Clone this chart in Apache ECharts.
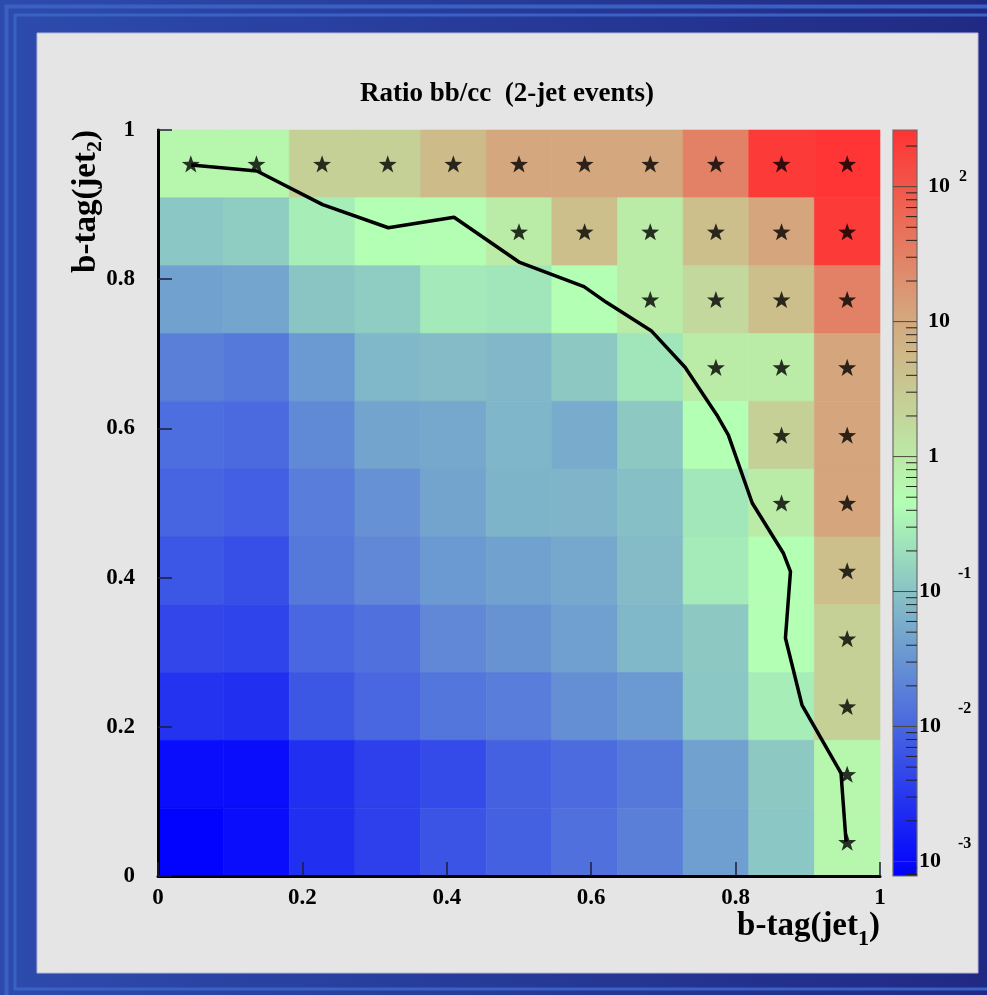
<!DOCTYPE html>
<html><head><meta charset="utf-8">
<script src="https://cdn.jsdelivr.net/npm/echarts@6/dist/echarts.min.js"></script>
<style>html,body{margin:0;padding:0;background:#222c88;} #c{width:987px;height:995px;}</style>
</head><body><div id="c"></div>
<script>
// ---------------- data ----------------
const nBins = 11;
const titleText = 'Ratio bb/cc  (2-jet events)';
const xTitle = 'b-tag(jet{sub|1})';
const yTitle = 'b-tag(jet{sub|2})';
// ratio bb/cc per cell; rows listed from top (jet2 bin 10) down to bottom (jet2 bin 0), columns jet1 bin 0..10
const ratioTopToBottom = [
  [0.63,    0.63,    2.4,    2.4,    5.1,    10.5,   10.5,   10.5,   30,    215,   250],
  [0.11,    0.125,   0.29,   0.45,   0.47,   0.9,    4.5,    0.9,    4.5,   11,    215],
  [0.043,   0.047,   0.105,  0.126,  0.26,   0.24,   0.45,   0.9,    1.8,   4.5,   30],
  [0.0185,  0.0155,  0.035,  0.074,  0.083,  0.075,  0.115,  0.24,   0.9,   0.9,   11],
  [0.012,   0.011,   0.024,  0.046,  0.051,  0.072,  0.055,  0.115,  0.45,  2.4,   11],
  [0.0096,  0.0082,  0.0175, 0.029,  0.046,  0.069,  0.07,   0.091,  0.25,  0.9,   11],
  [0.0066,  0.0056,  0.0155, 0.023,  0.035,  0.043,  0.051,  0.083,  0.27,  0.45,  4.5],
  [0.0045,  0.0042,  0.010,  0.013,  0.023,  0.030,  0.042,  0.074,  0.115, 0.45,  2.4],
  [0.0028,  0.0025,  0.0067, 0.010,  0.0145, 0.0175, 0.0275, 0.035,  0.11,  0.29,  2.4],
  [0.00107, 0.00107, 0.0025, 0.0038, 0.0049, 0.0087, 0.0112, 0.0155, 0.043, 0.115, 0.63],
  [0.00085, 0.00107, 0.0025, 0.0038, 0.0063, 0.0087, 0.013,  0.0185, 0.040, 0.11,  0.63]
];
// cells marked with a star: [jet1 bin, jet2 bin] (bin 0 = bottom/left)
const starCells = [
  [0,10],[1,10],[2,10],[3,10],[4,10],[5,10],[6,10],[7,10],[8,10],[9,10],[10,10],
  [5,9],[6,9],[7,9],[8,9],[9,9],[10,9],
  [7,8],[8,8],[9,8],[10,8],
  [8,7],[9,7],[10,7],
  [9,6],[10,6],
  [9,5],[10,5],
  [10,4],[10,3],[10,2],[10,1],[10,0]
];
// black contour line
const contourX = [0.046, 0.137, 0.228, 0.319, 0.410, 0.500, 0.590, 0.621, 0.683, 0.730, 0.774, 0.790, 0.823, 0.866, 0.876, 0.869, 0.892, 0.946, 0.953];
const contourY = [0.953, 0.945, 0.900, 0.869, 0.883, 0.823, 0.790, 0.769, 0.731, 0.682, 0.618, 0.591, 0.500, 0.433, 0.408, 0.319, 0.229, 0.138, 0.046];
// z (colour) range and palette
const zMin = 0.00078, zMax = 263;
const paletteColors = ['#0000ff', '#5a80d9', '#b3ffb3', '#d5a67d', '#ff3333'];
const zLabelExponents = [-3, -2, -1, 0, 1, 2];

// ---------------- build ----------------
const FONT = 'Liberation Serif';
const binW = 1 / nBins;
const logMin = Math.log10(zMin), logMax = Math.log10(zMax);
const cellData = [];
ratioTopToBottom.forEach((row, r) => {
  const j = nBins - 1 - r;
  row.forEach((v, i) => cellData.push([(i + 0.5) * binW, (j + 0.5) * binW, Math.log10(v)]));
});
const starData = starCells.map(c => [(c[0] + 0.5) * binW, (c[1] + 0.5) * binW]);
const lineData = contourX.map((x, k) => [x, contourY[k]]);
const tickData = [];
for (let e = -4; e <= 2; e++) {
  for (let k = 1; k <= 9; k++) {
    const lv = e + Math.log10(k);
    if (lv >= logMin && lv <= logMax) tickData.push([1, lv, k === 1 ? 1 : 0]);
  }
}
const gradStops = paletteColors.map((c, k) => ({offset: k / (paletteColors.length - 1), color: c}));
const starPath = 'path://M10,0 L12.35,6.76 L19.51,6.91 L13.8,11.24 L15.88,18.09 L10,14 L4.12,18.09 L6.2,11.24 L0.49,6.91 L7.65,6.76 Z';

const chart = echarts.init(document.getElementById('c'), null, {renderer: 'canvas'});
const boldLbl = {fontFamily: FONT, fontWeight: 'bold', color: '#000'};
function titleStyle(text, subPad) {
  return {
    text: text, fill: '#000', fontFamily: FONT, fontWeight: 'bold', fontSize: 33, lineHeight: 60,
    align: 'right', verticalAlign: 'middle',
    rich: {sub: {fontFamily: FONT, fontWeight: 'bold', fontSize: 22, lineHeight: 22, fill: '#000', padding: [subPad, 0, 0, 0]}}
  };
}

const option = {
  animation: false,
  backgroundColor: 'transparent',
  graphic: [
    {type: 'rect', z: -20, silent: true, shape: {x: 0, y: 0, width: 987, height: 995},
     style: {fill: new echarts.graphic.LinearGradient(0, 0, 1, 0, [{offset: 0, color: '#2d4bad'}, {offset: 1, color: '#202a84'}])}},
    {type: 'rect', z: -19, silent: true, shape: {x: 6.5, y: 6.5, width: 1000, height: 1000},
     style: {fill: null, stroke: '#3a60c4', lineWidth: 4}},
    {type: 'rect', z: -19, silent: true, shape: {x: 15, y: 15, width: 1000, height: 974},
     style: {fill: null, stroke: '#3a62c6', lineWidth: 3}},
    {type: 'rect', z: -18, silent: true, shape: {x: 37, y: 33, width: 941, height: 940},
     style: {fill: '#e5e5e5', stroke: '#b4b8d8', lineWidth: 1}},
    {type: 'text', z: 20, silent: true, x: 880, y: 926, style: titleStyle(xTitle, 27)},
    {type: 'text', z: 20, silent: true, x: 86, y: 130, rotation: Math.PI / 2, style: titleStyle(yTitle, 18)}
  ],
  title: {
    text: titleText, left: 507, top: 81, textAlign: 'center', padding: 0,
    textStyle: {fontFamily: FONT, fontWeight: 'bold', fontSize: 27, lineHeight: 27, color: '#000'}
  },
  visualMap: {
    type: 'continuous', show: false, seriesIndex: 0, dimension: 2,
    min: logMin, max: logMax, inRange: {color: paletteColors}
  },
  grid: [
    {left: 158, top: 130, width: 722, height: 746, outerBoundsMode: 'none'},
    {left: 893, top: 130, width: 24, height: 746, outerBoundsMode: 'none'}
  ],
  xAxis: [
    {gridIndex: 0, type: 'value', min: 0, max: 1, interval: 0.2, position: 'bottom', z: 10,
     axisLine: {lineStyle: {color: '#000', width: 3}},
     axisTick: {inside: true, length: 14, lineStyle: {color: '#1c1c3c', width: 1.5}},
     axisLabel: Object.assign({margin: 11, fontSize: 23}, boldLbl),
     splitLine: {show: false}},
    {gridIndex: 0, type: 'value', min: 0, max: 1, position: 'top', z: 10,
     axisLine: {lineStyle: {color: '#000', width: 2}}, axisTick: {show: false}, axisLabel: {show: false}, splitLine: {show: false}},
    {gridIndex: 1, type: 'value', min: 0, max: 1, show: false}
  ],
  yAxis: [
    {gridIndex: 0, type: 'value', min: 0, max: 1, interval: 0.2, position: 'left', z: 10,
     axisLine: {lineStyle: {color: '#000', width: 3}},
     axisTick: {inside: true, length: 14, lineStyle: {color: '#1c1c3c', width: 1.5}},
     axisLabel: Object.assign({margin: 23, fontSize: 23}, boldLbl),
     splitLine: {show: false}},
    {gridIndex: 0, type: 'value', min: 0, max: 1, position: 'right', z: 10,
     axisLine: {lineStyle: {color: '#000', width: 2}}, axisTick: {show: false}, axisLabel: {show: false}, splitLine: {show: false}},
    {gridIndex: 1, type: 'value', min: logMin, max: logMax, position: 'right',
     axisLine: {show: false}, axisTick: {show: false}, splitLine: {show: false},
     axisLabel: {
       customValues: zLabelExponents, margin: 2, color: '#000',
       formatter: function (v) {
         const e = Math.round(v);
         if (e === 0) return '{pad| }{b|1}';
         if (e === 1) return '{pad| }{b|10}';
         if (e > 1) return '{pad| }{bp|10}{gp| }{ep|' + e + '}';
         return '{bn|10}{gn| }{en|' + e + '}';
       },
       rich: {
         pad: {width: 9, fontSize: 10},
         b: {fontFamily: FONT, fontWeight: 'bold', fontSize: 22, lineHeight: 24, color: '#000'},
         bp: {fontFamily: FONT, fontWeight: 'bold', fontSize: 22, lineHeight: 36, color: '#000'},
         gp: {width: 9, fontSize: 10},
         ep: {fontFamily: FONT, fontWeight: 'bold', fontSize: 16, lineHeight: 16, verticalAlign: 'top', color: '#000'},
         bn: {fontFamily: FONT, fontWeight: 'bold', fontSize: 22, lineHeight: 52, color: '#000'},
         gn: {width: 17, fontSize: 10},
         en: {fontFamily: FONT, fontWeight: 'bold', fontSize: 16, lineHeight: 16, verticalAlign: 'top', color: '#000'}
       }
     }}
  ],
  series: [
    {
      type: 'custom', xAxisIndex: 0, yAxisIndex: 0, z: 2, encode: {x: 0, y: 1},
      data: cellData,
      renderItem: function (params, api) {
        const xc = api.value(0), yc = api.value(1);
        const p0 = api.coord([xc - binW / 2, yc + binW / 2]);
        const p1 = api.coord([xc + binW / 2, yc - binW / 2]);
        const c = api.visual('color');
        return {type: 'rect', shape: {x: p0[0], y: p0[1], width: p1[0] - p0[0], height: p1[1] - p0[1]},
                style: {fill: c, stroke: c, lineWidth: 0.6}};
      }
    },
    {
      type: 'line', xAxisIndex: 0, yAxisIndex: 0, z: 3, data: lineData,
      showSymbol: false, symbol: 'none', lineStyle: {color: '#000', width: 3.5}
    },
    {
      type: 'scatter', xAxisIndex: 0, yAxisIndex: 0, z: 4, data: starData,
      symbol: starPath, symbolSize: 18, symbolKeepAspect: true, itemStyle: {color: '#000'}
    },
    {
      type: 'custom', xAxisIndex: 2, yAxisIndex: 2, z: 2, encode: {x: 0, y: 1},
      data: [[0.5, (logMin + logMax) / 2]],
      renderItem: function (params, api) {
        const p0 = api.coord([0, logMax]);
        const p1 = api.coord([1, logMin]);
        return {type: 'rect', shape: {x: p0[0], y: p0[1], width: p1[0] - p0[0], height: p1[1] - p0[1]},
                style: {fill: new echarts.graphic.LinearGradient(0, 1, 0, 0, gradStops), stroke: '#6a6a6a', lineWidth: 1.2}};
      }
    },
    {
      type: 'custom', xAxisIndex: 2, yAxisIndex: 2, z: 3, encode: {x: 0, y: 1},
      data: tickData,
      renderItem: function (params, api) {
        const pr = api.coord([1, api.value(1)]);
        const pl = api.coord([0, api.value(1)]);
        const major = api.value(2) === 1;
        const x1 = major ? pl[0] : pr[0] - 11;
        return {type: 'line', shape: {x1: x1, y1: pr[1], x2: pr[0], y2: pr[1]},
                style: {stroke: major ? '#4a4a3a' : '#222', lineWidth: 1}};
      }
    }
  ]
};
chart.setOption(option);
</script>
</body></html>
